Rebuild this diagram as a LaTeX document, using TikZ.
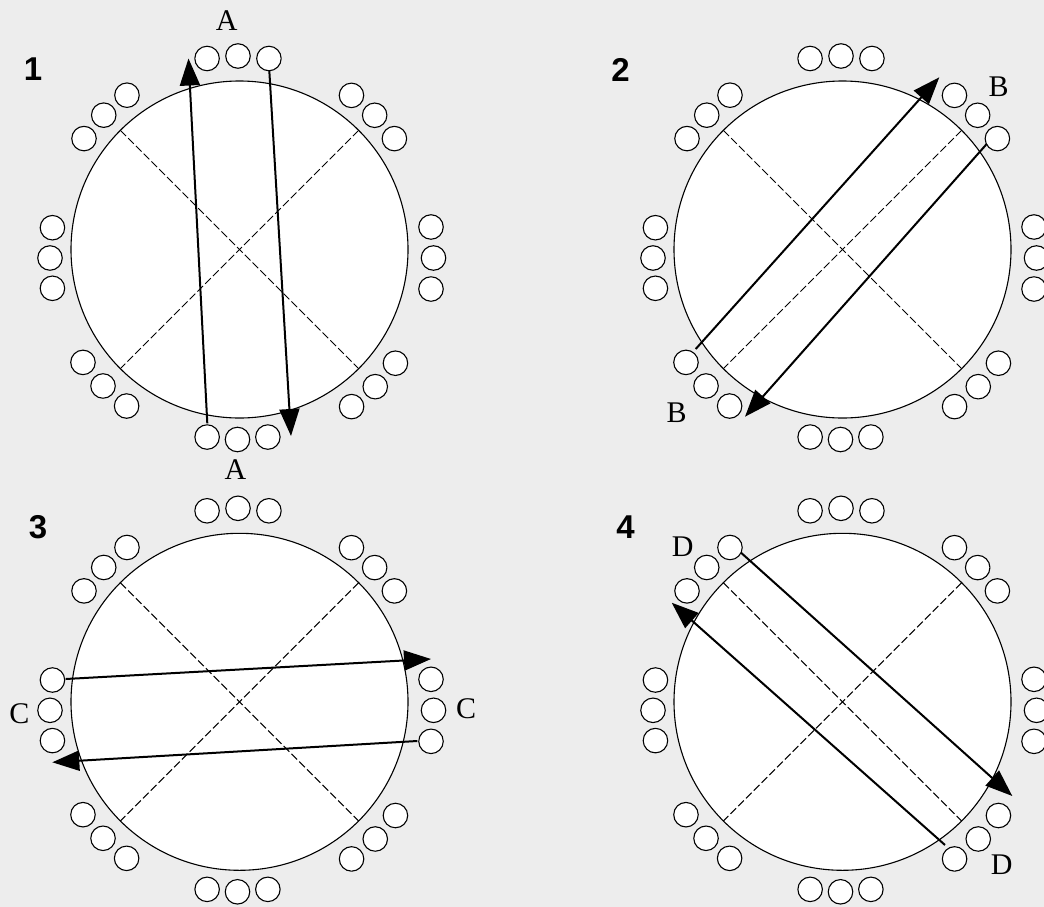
\documentclass[tikz,border=0pt]{standalone}
\usepackage{fontspec}
\setmainfont{Liberation Serif}
\newfontfamily\numfont{Liberation Sans}
\usetikzlibrary{arrows.meta,calc}
\definecolor{bgc}{HTML}{EDEDED}
\tikzset{
  bigc/.style={circle,draw,fill=white,line width=1.1pt,minimum size=337pt,inner sep=0pt,outer sep=0pt},
  sc/.style={circle,draw,fill=white,line width=1.1pt,minimum size=24.5pt,inner sep=0pt},
  diag/.style={line width=1pt,dash pattern=on 8pt off 3pt},
  arr/.style={line width=2pt,-{Triangle[length=27pt,width=20pt]}},
  lbl/.style={font=\fontsize{30}{30}\selectfont,inner sep=0pt},
  num/.style={font=\numfont\bfseries\fontsize{33}{33}\selectfont,inner sep=0pt},
}
\newcommand\mytrio[5]{%
  \foreach \k/\n in {-1/a,0/b,1/c}{\node[sc] (#1#2\n) at ($(#1)+(#5)+({#3+\k*9.2}:#4)$) {};}%
}
\newcommand\drawpanel[2]{%
  \coordinate (#1) at (#2);
  \node[bigc] (#1c) at (#1) {};
  \draw[diag] (#1c.135) -- (#1c.-45);
  \draw[diag] (#1c.45) -- (#1c.-135);
  \mytrio{#1}{t}{270}{193.5}{-1.5,0}
  \mytrio{#1}{b}{90}{190}{-2,0}
  \mytrio{#1}{l}{180}{189.5}{0,8.5}
  \mytrio{#1}{r}{0}{194}{0,8.5}
  \mytrio{#1}{tl}{224.7}{191}{0,0}
  \mytrio{#1}{tr}{315.2}{190.5}{0,0}
  \mytrio{#1}{bl}{135}{193}{0,0}
  \mytrio{#1}{br}{45.3}{193}{0,0}
}
\begin{document}
\begin{tikzpicture}[x=1pt,y=-1pt]
\fill[bgc] (0,0) rectangle (1044,907);
\useasboundingbox (0,0) rectangle (1044,907);

\drawpanel{pa}{239.5,249.5}
\drawpanel{pb}{842.5,249.5}
\drawpanel{pc}{239.5,701.8}
\drawpanel{pd}{842.5,701.8}

% panel 1 arrows
\coordinate (a1s) at (207.3,423.3);
\coordinate (a1e) at (188.5,58.5);
\coordinate (a2s) at (269.3,70.5);
\coordinate (a2e) at (291,436);
\draw[arr] (a1s) -- (a1e);
\draw[arr] (a2s) -- (a2e);
% panel 2 arrows
\coordinate (b1s) at (695.7,349);
\coordinate (b1e) at (939.3,77.3);
\coordinate (b2s) at (986.7,144);
\coordinate (b2e) at (745,416.7);
\draw[arr] (b1s) -- (b1e);
\draw[arr] (b2s) -- (b2e);
% panel 3 arrows
\coordinate (c1s) at (65.7,679);
\coordinate (c1e) at (431,659);
\coordinate (c2s) at (417.3,741);
\coordinate (c2e) at (52.3,762.3);
\draw[arr] (c1s) -- (c1e);
\draw[arr] (c2s) -- (c2e);
% panel 4 arrows
\coordinate (d1s) at (741,552.7);
\coordinate (d1e) at (1012.3,796);
\coordinate (d2s) at (945,845);
\coordinate (d2e) at (671.7,602.7);
\draw[arr] (d1s) -- (d1e);
\draw[arr] (d2s) -- (d2e);

% labels
\node[lbl] (lA1) at (226.7,20.5) {A};
\node[lbl] (lA2) at (235.5,470) {A};
\node[lbl] (lB1) at (998.5,87) {B};
\node[lbl] (lB2) at (676.7,412.7) {B};
\node[lbl] (lC1) at (19.3,713.5) {C};
\node[lbl] (lC2) at (466,709) {C};
\node[lbl] (lD1) at (682.7,546.7) {D};
\node[lbl] (lD2) at (1001.7,865) {D};

\node[num] (n1) at (33,69) {1};
\node[num] (n2) at (620.5,70) {2};
\node[num] (n3) at (38,526.7) {3};
\node[num] (n4) at (625.5,526.7) {4};
\end{tikzpicture}
\end{document}
